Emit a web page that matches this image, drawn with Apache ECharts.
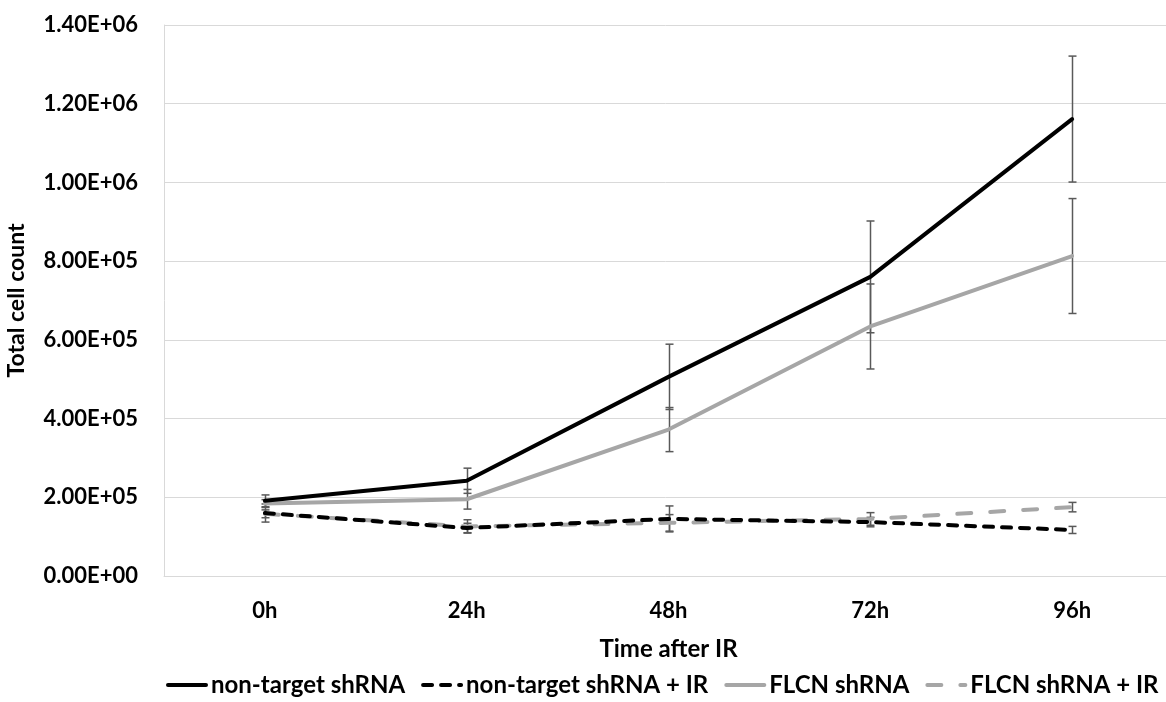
<!DOCTYPE html>
<html>
<head>
<meta charset="utf-8">
<script src="https://cdn.jsdelivr.net/npm/echarts@6/dist/echarts.min.js"></script>
<style>
  html, body { margin: 0; padding: 0; background: #fff; }
  #chart { width: 1166px; height: 702px; }
</style>
</head>
<body>
<div id="chart"></div>
<script>
const categories = ['0h', '24h', '48h', '72h', '96h'];

const ntShRNA      = [191000, 242000, 506000, 760000, 1161000];
const ntShRNAErr   = [15000, 32000, 83000, 142000, 160000];
const ntShRNAIR    = [160000, 122000, 145000, 137000, 117000];
const ntShRNAIRErr = [23000, 12000, 33000, 12000, 9000];
const flcnShRNA    = [184000, 195000, 372000, 634000, 813000];
const flcnShRNAErr = [10000, 25000, 56000, 108000, 146000];
const flcnShRNAIR  = [158000, 126000, 135000, 145000, 175000];
const flcnShRNAIRErr = [10000, 17000, 21000, 16000, 12000];

const seriesNames = ['non-target shRNA', 'non-target shRNA + IR', 'FLCN shRNA', 'FLCN shRNA + IR'];

const FONT = 'Lato';

function sci(v) {
  if (v === 0) return '0.00E+00';
  let e = Math.floor(Math.log10(v) + 1e-9);
  let m = v / Math.pow(10, e);
  return m.toFixed(2) + 'E+' + (e < 10 ? '0' + e : e);
}

function errData(vals, errs) {
  return vals.map((v, i) => [i, v - errs[i], v + errs[i]]);
}

function errSeries(vals, errs) {
  return {
    type: 'custom',
    silent: true,
    z: 1,
    data: errData(vals, errs),
    renderItem: function (params, api) {
      const x = api.value(0);
      const lo = api.coord([x, api.value(1)]);
      const hi = api.coord([x, api.value(2)]);
      const cx = Math.round(lo[0]) + 0.5;
      const w = 4;
      const st = { stroke: '#595959', lineWidth: 1.5 };
      return {
        type: 'group',
        children: [
          { type: 'line', shape: { x1: cx, y1: lo[1], x2: cx, y2: hi[1] }, style: st },
          { type: 'line', shape: { x1: cx - w, y1: lo[1], x2: cx + w, y2: lo[1] }, style: st },
          { type: 'line', shape: { x1: cx - w, y1: hi[1], x2: cx + w, y2: hi[1] }, style: st }
        ]
      };
    }
  };
}

function lineSeries(name, data, color, type, z) {
  return {
    name: name,
    type: 'line',
    data: data,
    showSymbol: false,
    symbol: 'none',
    z: z,
    lineStyle: { color: color, width: 4, type: type, cap: 'round' },
    itemStyle: { color: color }
  };
}

const chart = echarts.init(document.getElementById('chart'), null, { renderer: 'canvas' });
chart.setOption({
  animation: false,
  backgroundColor: '#fff',
  grid: { left: 164, top: 25, right: -7, bottom: 126, containLabel: false, outerBoundsMode: 'none' },
  legend: {
    data: seriesNames,
    bottom: 0,
    left: 166,
    width: 1000,
    padding: [5, 0, 5, 0],
    itemWidth: 38,
    itemHeight: 14,
    itemGap: 16,
    itemStyle: { opacity: 0, borderWidth: 0 },
    lineStyle: { width: 4 },
    textStyle: { fontFamily: FONT, fontWeight: 'bold', fontSize: 24, color: '#000' }
  },
  xAxis: {
    type: 'category',
    data: categories,
    boundaryGap: true,
    name: 'Time after IR',
    nameLocation: 'middle',
    nameGap: 61,
    nameTextStyle: { fontFamily: FONT, fontWeight: 'bold', fontSize: 24, color: '#000' },
    axisLine: { lineStyle: { color: '#d9d9d9', width: 1 } },
    axisTick: { show: false },
    axisLabel: { margin: 24, fontFamily: FONT, fontWeight: 'bold', fontSize: 22, color: '#000' }
  },
  yAxis: {
    type: 'value',
    min: 0,
    max: 1400000,
    interval: 200000,
    name: 'Total cell count',
    nameLocation: 'middle',
    nameGap: 136,
    nameTextStyle: { fontFamily: FONT, fontWeight: 'bold', fontSize: 23, color: '#000' },
    axisLine: { show: true, lineStyle: { color: '#d9d9d9', width: 1 } },
    axisTick: { show: false },
    splitLine: { lineStyle: { color: '#d9d9d9', width: 1 } },
    axisLabel: { margin: 26, formatter: sci, fontFamily: FONT, fontWeight: 'bold', fontSize: 22, color: '#000' }
  },
  series: [
    errSeries(ntShRNA, ntShRNAErr),
    errSeries(ntShRNAIR, ntShRNAIRErr),
    errSeries(flcnShRNA, flcnShRNAErr),
    errSeries(flcnShRNAIR, flcnShRNAIRErr),
    lineSeries(seriesNames[0], ntShRNA, '#000000', 'solid', 5),
    lineSeries(seriesNames[1], ntShRNAIR, '#000000', [9, 9], 4),
    lineSeries(seriesNames[2], flcnShRNA, '#a6a6a6', 'solid', 3),
    lineSeries(seriesNames[3], flcnShRNAIR, '#a6a6a6', [14, 19], 2)
  ]
});
</script>
</body>
</html>
